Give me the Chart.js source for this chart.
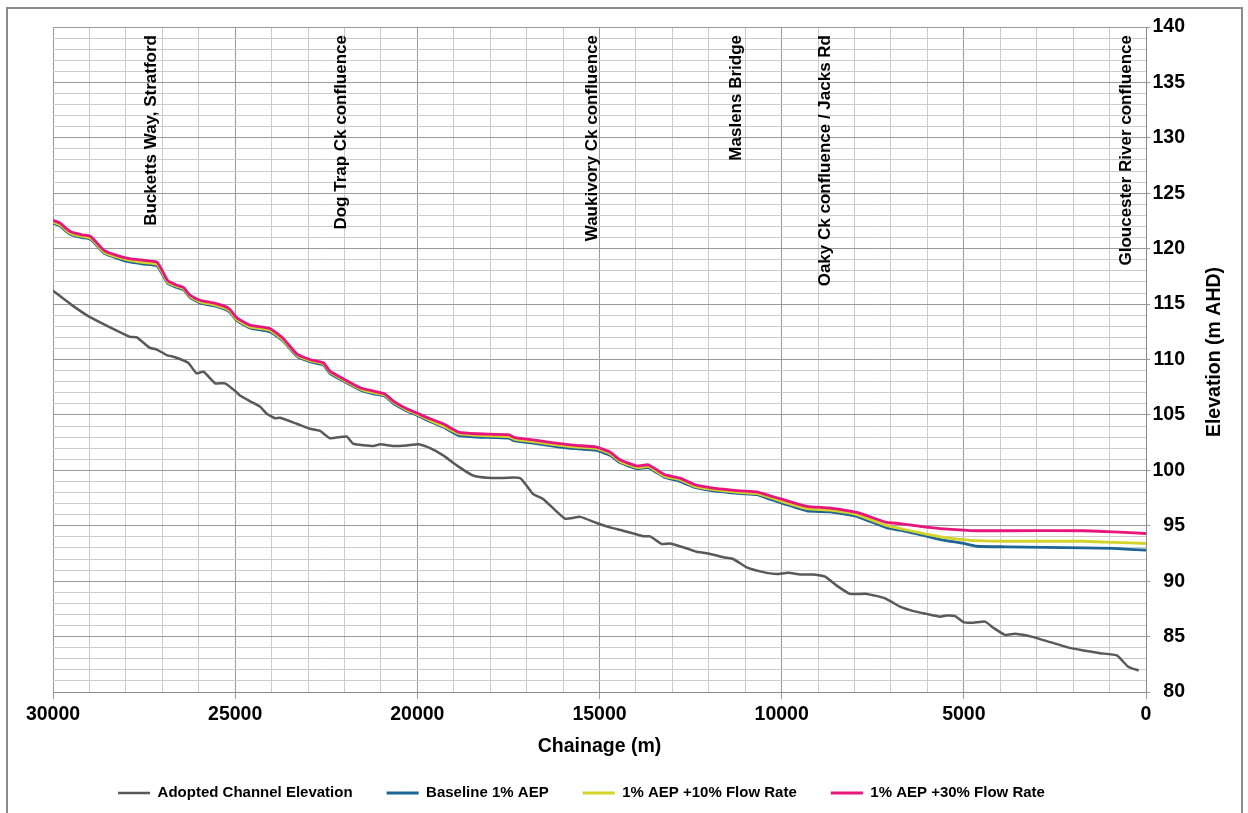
<!DOCTYPE html>
<html><head><meta charset="utf-8">
<script src="https://cdn.jsdelivr.net/npm/chart.js@4.4.1/dist/chart.umd.min.js"></script>
<style>html,body{margin:0;padding:0;background:#fff;} canvas{display:block;}</style>
</head><body>
<canvas id="c" width="1248" height="813"></canvas>
<script>
// ---- data ----
const channelChainage = [30000, 29500, 29000, 27890, 27700, 27340, 27150, 26880, 26650, 26290, 26060, 25870, 25550, 25280, 24960, 24870, 24600, 24320, 24130, 23910, 23770, 23310, 22950, 22670, 22400, 21940, 21760, 21200, 21020, 20660, 20290, 19970, 19650, 19290, 18920, 18510, 18280, 17820, 17180, 16820, 16540, 15950, 15530, 15080, 14710, 14350, 13800, 13610, 13290, 13060, 12600, 12330, 12010, 11600, 11330, 10960, 10410, 10130, 9820, 9490, 9130, 8810, 8490, 8120, 7660, 7160, 6750, 6380, 6020, 5650, 5470, 5240, 5010, 4740, 4420, 4190, 3870, 3590, 3090, 2630, 2170, 1720, 1260, 800, 480, 200];
const channelElevation = [116.2, 114.95, 113.85, 112.05, 112.0, 111.05, 110.9, 110.4, 110.2, 109.7, 108.75, 108.9, 107.85, 107.85, 107.05, 106.75, 106.25, 105.75, 105.1, 104.7, 104.75, 104.2, 103.75, 103.55, 102.9, 103.05, 102.4, 102.2, 102.35, 102.2, 102.25, 102.35, 102.0, 101.35, 100.45, 99.6, 99.4, 99.3, 99.3, 97.85, 97.4, 95.65, 95.8, 95.25, 94.85, 94.55, 94.05, 94.05, 93.35, 93.4, 92.95, 92.65, 92.5, 92.15, 92.0, 91.25, 90.75, 90.65, 90.75, 90.6, 90.6, 90.4, 89.6, 88.85, 88.85, 88.45, 87.7, 87.3, 87.05, 86.8, 86.9, 86.85, 86.3, 86.25, 86.35, 85.8, 85.15, 85.25, 84.95, 84.5, 84.05, 83.75, 83.5, 83.3, 82.25, 81.95];

const floodChainage = [30000, 29800, 29650, 29500, 29200, 29000, 28900, 28600, 28250, 27900, 27500, 27150, 27000, 26850, 26600, 26420, 26240, 25970, 25600, 25250, 25140, 24950, 24600, 24050, 23680, 23310, 22950, 22580, 22400, 22030, 21570, 21200, 20900, 20660, 20290, 20000, 19650, 19290, 18870, 18370, 17500, 17320, 16720, 16090, 15630, 15080, 14710, 14440, 13980, 13660, 13430, 13200, 12790, 12380, 11970, 11600, 11140, 10680, 10320, 9950, 9310, 8670, 7940, 7110, 6750, 6200, 5650, 5010, 4650, 3830, 1720, 900, 0];
const baseline1AEP = [122.3, 122.05, 121.6, 121.25, 121.0, 120.9, 120.65, 119.6, 119.15, 118.8, 118.6, 118.45, 117.7, 116.85, 116.5, 116.3, 115.6, 115.1, 114.85, 114.5, 114.25, 113.5, 112.85, 112.5, 111.65, 110.3, 109.8, 109.5, 108.75, 108.05, 107.25, 106.9, 106.7, 106.05, 105.35, 104.95, 104.4, 103.9, 103.15, 103.0, 102.9, 102.65, 102.4, 102.1, 101.95, 101.8, 101.35, 100.7, 100.15, 100.25, 99.8, 99.35, 99.0, 98.45, 98.2, 98.05, 97.9, 97.8, 97.4, 97.0, 96.35, 96.25, 95.85, 94.8, 94.6, 94.2, 93.75, 93.4, 93.15, 93.1, 93.0, 92.95, 92.8];
const aep10Flow = [122.4, 122.15, 121.7, 121.35, 121.1, 121.0, 120.75, 119.7, 119.25, 118.95, 118.75, 118.6, 117.85, 116.95, 116.6, 116.4, 115.7, 115.2, 114.95, 114.6, 114.35, 113.6, 112.95, 112.65, 111.75, 110.4, 109.9, 109.6, 108.85, 108.15, 107.35, 107.0, 106.8, 106.15, 105.45, 105.05, 104.5, 104.0, 103.3, 103.15, 103.05, 102.8, 102.55, 102.25, 102.1, 101.95, 101.5, 100.8, 100.25, 100.35, 99.9, 99.45, 99.15, 98.55, 98.3, 98.15, 98.0, 97.9, 97.55, 97.15, 96.55, 96.4, 96.0, 95.0, 94.75, 94.35, 94.0, 93.75, 93.65, 93.6, 93.6, 93.5, 93.4];
const aep30Flow = [122.55, 122.3, 121.85, 121.5, 121.25, 121.15, 120.9, 119.85, 119.4, 119.1, 118.95, 118.8, 118.0, 117.1, 116.7, 116.5, 115.8, 115.35, 115.1, 114.75, 114.5, 113.75, 113.1, 112.8, 111.9, 110.5, 110.0, 109.7, 108.95, 108.25, 107.45, 107.15, 106.9, 106.25, 105.55, 105.15, 104.65, 104.2, 103.45, 103.3, 103.22, 102.95, 102.7, 102.4, 102.25, 102.1, 101.65, 100.95, 100.4, 100.5, 100.05, 99.6, 99.3, 98.7, 98.45, 98.3, 98.15, 98.05, 97.7, 97.35, 96.75, 96.6, 96.2, 95.3, 95.2, 94.95, 94.75, 94.6, 94.55, 94.55, 94.55, 94.45, 94.3];

const seriesNames = ['Adopted Channel Elevation', 'Baseline 1% AEP', '1% AEP +10% Flow Rate', '1% AEP +30% Flow Rate'];
const annotationChainage = [27300, 22100, 15200, 11250, 8800, 550];
const annotationText = ['Bucketts Way, Stratford', 'Dog Trap Ck confluence', 'Waukivory Ck confluence', 'Maslens Bridge', 'Oaky Ck confluence / Jacks Rd', 'Gloucester River confluence'];
const xTitle = 'Chainage (m)';
const yTitle = 'Elevation (m AHD)';

// ---- styling ----
const FONT = "'Liberation Sans', Arial, sans-serif";
const MAJOR = '#9a9a9a', MINOR = '#cccccc';
const pts = (xs, ys) => xs.map((x, i) => ({x: x, y: ys[i]}));

const decor = {
  id: 'decor',
  afterLayout(chart) {
    const lg = chart.legend;
    lg.left = 17; lg.right = 1146; lg.top = 751.5;
  },
  beforeDraw(chart) {
    const ctx = chart.ctx;
    ctx.save();
    ctx.fillStyle = '#fff'; ctx.fillRect(0, 0, chart.width, chart.height);
    ctx.strokeStyle = '#8c8c8c'; ctx.lineWidth = 2;
    ctx.strokeRect(7, 8, 1235, 900);
    ctx.restore();
  },
  afterDatasetsDraw(chart) {
    const ctx = chart.ctx, xs = chart.scales.x;
    ctx.save();
    ctx.font = 'bold 17px ' + FONT;
    ctx.fillStyle = '#000';
    ctx.textAlign = 'right';
    ctx.textBaseline = 'middle';
    annotationChainage.forEach((c, i) => {
      const px = xs.getPixelForValue(c);
      ctx.save();
      ctx.translate(px, chart.chartArea.top + 8);
      ctx.rotate(-Math.PI / 2);
      ctx.fillText(annotationText[i], 0, 0);
      ctx.restore();
    });
    ctx.restore();
  },
  afterDraw(chart) {
    const ctx = chart.ctx;
    ctx.save();
    ctx.font = 'bold 19.5px ' + FONT;
    ctx.fillStyle = '#000';
    ctx.textAlign = 'center';
    ctx.textBaseline = 'middle';
    ctx.translate(1215, 352);
    ctx.rotate(-Math.PI / 2);
    ctx.fillText(yTitle, 0, 0);
    ctx.restore();
  }
};

new Chart(document.getElementById('c'), {
  type: 'scatter',
  data: {
    datasets: [
      {label: seriesNames[0], data: pts(channelChainage, channelElevation), borderColor: '#595959', backgroundColor: '#595959', borderWidth: 2.5, order: 3},
      {label: seriesNames[1], data: pts(floodChainage, baseline1AEP), borderColor: '#1b6493', backgroundColor: '#1b6493', borderWidth: 2.8, order: 2},
      {label: seriesNames[2], data: pts(floodChainage, aep10Flow), borderColor: '#d3d32a', backgroundColor: '#d3d32a', borderWidth: 2.8, order: 1},
      {label: seriesNames[3], data: pts(floodChainage, aep30Flow), borderColor: '#e8157d', backgroundColor: '#e8157d', borderWidth: 2.8, order: 0}
    ].map(d => Object.assign(d, {showLine: true, pointRadius: 0, pointHoverRadius: 0, tension: 0.15, fill: false}))
  },
  options: {
    responsive: false,
    animation: false,
    devicePixelRatio: 1,
    layout: {padding: {left: 53, top: 27, right: 63, bottom: 0}},
    plugins: {
      tooltip: {enabled: false},
      legend: {
        position: 'bottom',
        labels: {
          usePointStyle: true,
          pointStyle: 'line',
          pointStyleWidth: 32,
          padding: 34,
          color: '#000',
          font: {family: FONT, size: 15, weight: 'bold'},
          sort: (a, b) => a.datasetIndex - b.datasetIndex
        }
      }
    },
    scales: {
      x: {
        type: 'linear',
        reverse: true,
        min: 0, max: 30000,
        afterFit(s) { s.height = 62; },
        grid: {
          color: c => (c.tick && c.tick.value % 5000 === 0) ? MAJOR : MINOR,
          tickColor: c => (c.tick && c.tick.value % 5000 === 0) ? MAJOR : 'rgba(0,0,0,0)',
          tickLength: 7,
          lineWidth: 1
        },
        border: {color: '#8a8a8a', width: 1},
        ticks: {
          stepSize: 1000,
          maxTicksLimit: 100,
          autoSkip: false,
          maxRotation: 0,
          padding: 4,
          color: '#000',
          font: {family: FONT, size: 19.5, weight: 'bold'},
          callback: v => (v % 5000 === 0 ? String(v) : '')
        },
        title: {display: true, text: xTitle, color: '#000', font: {family: FONT, size: 19.5, weight: 'bold'}, padding: {top: 0, bottom: -4}}
      },
      y: {
        type: 'linear',
        position: 'right',
        min: 80, max: 140,
        afterFit(s) { s.width = 39; },
        grid: {
          color: c => (c.tick && c.tick.value % 5 === 0) ? MAJOR : MINOR,
          tickColor: c => (c.tick && c.tick.value % 5 === 0) ? MAJOR : 'rgba(0,0,0,0)',
          tickLength: 4,
          lineWidth: 1
        },
        border: {color: '#8a8a8a', width: 1},
        ticks: {
          stepSize: 1,
          maxTicksLimit: 100,
          autoSkip: false,
          padding: 3,
          crossAlign: 'far',
          color: '#000',
          font: {family: FONT, size: 19.5, weight: 'bold'},
          callback: v => (v % 5 === 0 ? String(v) : '')
        }
      }
    }
  },
  plugins: [decor]
});
</script>
</body></html>
